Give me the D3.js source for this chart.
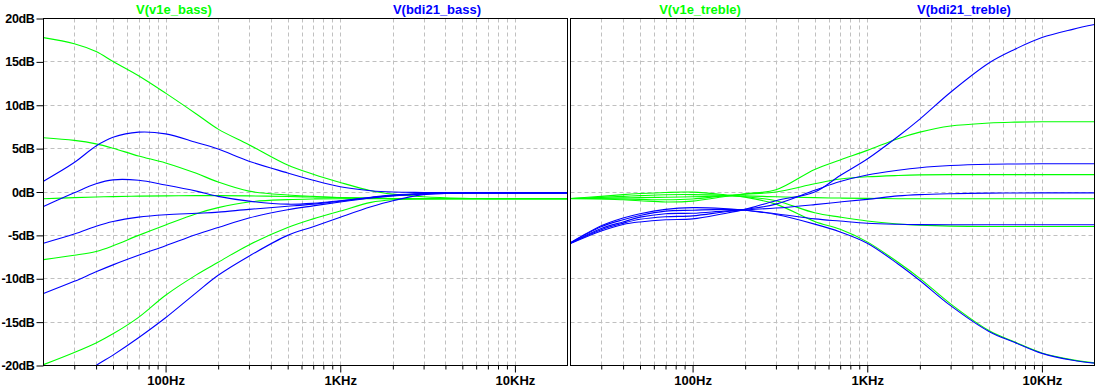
<!DOCTYPE html>
<html>
<head>
<meta charset="utf-8">
<script src="https://cdn.jsdelivr.net/npm/d3@7"></script>
<style>
  html, body { margin: 0; padding: 0; background: #fff; }
  svg { display: block; }
  text { font-family: "Liberation Sans", Arial, sans-serif; font-weight: bold; font-size: 13px; }
</style>
</head>
<body>
<svg id="chart" width="1100" height="390"></svg>
<script>
// ---------- data ----------
const freqs = [20,30,40,50,70,100,150,200,300,500,700,1000,1500,2000,3000,5000,7000,10000,15000,20000];

// left panel: bass
const bassGreenNames = "V(v1e_bass)";
const bassBlueNames = "V(bdi21_bass)";
const bassG1 = [17.8,17.1,16.2,15.05,13.4,11.4,9.0,7.25,5.45,3.1,2.05,1.1,0.15,-0.25,-0.55,-0.72,-0.76,-0.78,-0.78,-0.78];
const bassG2 = [6.25,5.95,5.55,5.05,4.15,3.35,2.15,1.15,0.1,-0.35,-0.5,-0.65,-0.72,-0.76,-0.78,-0.78,-0.78,-0.78,-0.78,-0.78];
const bassG3 = [-0.78,-0.65,-0.58,-0.53,-0.48,-0.45,-0.42,-0.42,-0.45,-0.52,-0.58,-0.65,-0.72,-0.75,-0.77,-0.78,-0.78,-0.78,-0.78,-0.78];
const bassG4 = [-7.8,-7.3,-6.85,-6.2,-5.0,-3.8,-2.5,-1.8,-1.15,-0.88,-0.8,-0.77,-0.78,-0.78,-0.78,-0.78,-0.78,-0.78,-0.78,-0.78];
const bassG5 = [-19.9,-18.5,-17.4,-16.35,-14.45,-11.9,-9.55,-8.1,-6.1,-4.1,-3.1,-2.2,-1.2,-0.9,-0.8,-0.78,-0.78,-0.78,-0.78,-0.78];
const bassB1 = [1.25,3.4,5.3,6.3,6.9,6.7,5.7,4.95,3.55,2.2,1.35,0.6,0.15,0.0,-0.05,-0.08,-0.1,-0.1,-0.1,-0.1];
const bassB2 = [-1.67,-0.1,0.95,1.4,1.35,0.8,0.1,-0.5,-1.05,-1.4,-1.3,-1.0,-0.6,-0.35,-0.18,-0.12,-0.1,-0.1,-0.1,-0.1];
const bassB3 = [-5.9,-4.85,-3.95,-3.4,-2.9,-2.62,-2.45,-2.32,-2.0,-1.65,-1.4,-1.05,-0.65,-0.42,-0.22,-0.13,-0.1,-0.1,-0.1,-0.1];
const bassB4 = [-11.7,-10.3,-9.2,-8.4,-7.3,-6.2,-4.9,-4.1,-3.0,-2.05,-1.6,-1.15,-0.7,-0.45,-0.22,-0.12,-0.1,-0.1,-0.1,-0.1];
const bassB5 = [-24.2,-21.8,-20.0,-18.8,-16.8,-14.5,-11.6,-9.6,-7.4,-5.0,-4.0,-2.9,-1.7,-1.0,-0.3,-0.12,-0.1,-0.1,-0.1,-0.1];

// right panel: treble
const trebleGreenNames = "V(v1e_treble)";
const trebleBlueNames = "V(bdi21_treble)";
const trebG1 = [-0.75,-0.8,-0.9,-1.0,-1.15,-1.05,-0.55,-0.2,0.25,2.6,3.7,4.8,6.15,6.9,7.6,7.95,8.05,8.1,8.1,8.1];
const trebG2 = [-0.75,-0.78,-0.8,-0.85,-0.9,-0.8,-0.45,-0.25,0.0,0.95,1.5,1.75,1.9,1.97,2.0,2.0,2.0,2.0,2.0,2.0];
const trebG3 = [-0.78,-0.72,-0.68,-0.65,-0.6,-0.55,-0.45,-0.45,-0.55,-0.65,-0.7,-0.74,-0.77,-0.78,-0.78,-0.78,-0.78,-0.78,-0.78,-0.78];
const trebG4 = [-0.75,-0.62,-0.5,-0.42,-0.32,-0.3,-0.38,-0.55,-1.0,-2.4,-2.9,-3.35,-3.68,-3.82,-3.93,-3.98,-3.98,-3.98,-3.98,-3.98];
const trebG5 = [-0.75,-0.5,-0.3,-0.18,-0.05,-0.02,-0.3,-0.6,-1.4,-3.4,-4.3,-5.75,-8.1,-9.95,-12.9,-16.0,-17.3,-18.55,-19.35,-19.7];
const trebB1 = [-5.95,-4.5,-3.75,-3.45,-3.2,-3.1,-2.5,-2.0,-1.0,0.0,1.9,3.8,6.4,8.4,11.5,14.9,16.45,17.8,18.75,19.3];
const trebB2 = [-5.9,-4.35,-3.6,-3.15,-2.85,-2.75,-2.3,-2.0,-1.4,0.2,1.2,1.95,2.5,2.8,3.05,3.2,3.23,3.25,3.25,3.25];
const trebB3 = [-5.9,-4.2,-3.45,-2.9,-2.5,-2.45,-2.2,-2.05,-1.85,-1.45,-1.15,-0.85,-0.45,-0.3,-0.2,-0.13,-0.11,-0.1,-0.1,-0.1];
const trebB4 = [-5.85,-4.0,-3.2,-2.7,-2.2,-2.1,-2.0,-2.1,-2.5,-3.1,-3.35,-3.6,-3.72,-3.76,-3.78,-3.78,-3.78,-3.78,-3.78,-3.78];
const trebB5 = [-5.85,-3.9,-3.0,-2.5,-2.0,-1.8,-1.9,-2.1,-2.6,-3.7,-4.6,-5.9,-8.3,-10.2,-13.1,-16.1,-17.35,-18.6,-19.4,-19.73];

const yTicks = [20,15,10,5,0,-5,-10,-15,-20];
const yTickLabels = ["20dB","15dB","10dB","5dB","0dB","-5dB","-10dB","-15dB","-20dB"];
const xMajor = [100,1000,10000];
const xMajorLabels = ["100Hz","1KHz","10KHz"];
const xMinor = [30,40,50,60,70,80,90,200,300,400,500,600,700,800,900,2000,3000,4000,5000,6000,7000,8000,9000];

// ---------- drawing ----------
const GREEN = "#00ff00", BLUE = "#0000ff";
const FONT = '"Liberation Sans", Arial, sans-serif';
const svg = d3.select("#chart");
svg.append("rect").attr("width",1100).attr("height",390).attr("fill","#fff");

const y = d3.scaleLinear().domain([-20,20]).range([365.5,18.5]);

const panels = [
  { id:"bass", x0:43.5, x1:567.5, greens:[bassG1,bassG2,bassG3,bassG4,bassG5], blues:[bassB1,bassB2,bassB3,bassB4,bassB5],
    gName:bassGreenNames, bName:bassBlueNames, gX:174, bX:437, yLabels:true },
  { id:"treble", x0:570.5, x1:1094.5, greens:[trebG1,trebG2,trebG3,trebG4,trebG5], blues:[trebB1,trebB2,trebB3,trebB4,trebB5],
    gName:trebleGreenNames, bName:trebleBlueNames, gX:700, bX:964, yLabels:false }
];

panels.forEach(p => {
  const x = d3.scaleLog().domain([20,20000]).range([p.x0, p.x1]);
  const g = svg.append("g");

  // grid
  const gridF = xMinor.concat(xMajor);
  g.selectAll(null).data(gridF).enter().append("line")
    .attr("x1", d => Math.round(x(d)) + 0.5).attr("x2", d => Math.round(x(d)) + 0.5)
    .attr("y1", y(20)).attr("y2", y(-20))
    .attr("stroke","#c0c0c0").attr("stroke-dasharray","4,3").attr("stroke-width",1);
  g.selectAll(null).data(yTicks.filter(d => d !== 20 && d !== -20)).enter().append("line")
    .attr("x1", p.x0).attr("x2", p.x1)
    .attr("y1", d => Math.round(y(d) - 0.5) + 0.5).attr("y2", d => Math.round(y(d) - 0.5) + 0.5)
    .attr("stroke","#c0c0c0").attr("stroke-dasharray","4,3").attr("stroke-width",1);

  // clip
  svg.append("clipPath").attr("id","clip-"+p.id).append("rect")
    .attr("x", p.x0).attr("y", y(20)).attr("width", p.x1 - p.x0).attr("height", y(-20) - y(20));

  const line = d3.line().x((d,i) => x(freqs[i])).y(d => y(d)).curve(d3.curveCatmullRom.alpha(0.5));
  const traces = g.append("g").attr("clip-path","url(#clip-"+p.id+")");
  p.greens.forEach(s => traces.append("path").attr("d", line(s)).attr("fill","none").attr("stroke",GREEN).attr("stroke-width",1.1));
  p.blues.forEach(s => traces.append("path").attr("d", line(s)).attr("fill","none").attr("stroke",BLUE).attr("stroke-width",1.1));

  // frame
  g.append("rect").attr("x", p.x0).attr("y", y(20)).attr("width", p.x1 - p.x0).attr("height", y(-20) - y(20))
    .attr("fill","none").attr("stroke","#000").attr("stroke-width",1);

  // bottom axis: minor ticks
  const axMinor = d3.axisBottom(x).tickValues(xMinor).tickSize(4).tickFormat("");
  const gm = g.append("g").attr("transform","translate(0,"+y(-20)+")").call(axMinor);
  gm.select(".domain").remove();
  gm.selectAll("line").attr("stroke","#000");
  // major ticks with labels
  const axMajor = d3.axisBottom(x).tickValues(xMajor).tickSize(7).tickPadding(3)
    .tickFormat((d) => xMajorLabels[xMajor.indexOf(d)]);
  const gM = g.append("g").attr("transform","translate(0,"+y(-20)+")").call(axMajor);
  gM.select(".domain").remove();
  gM.selectAll("line").attr("stroke","#000");
  gM.selectAll("text").attr("fill","#000").style("font-family",FONT)
    .style("font-weight","bold").style("font-size","13px");

  // y axis
  if (p.yLabels) {
    const ay = d3.axisLeft(y).tickValues(yTicks).tickSize(7).tickPadding(2)
      .tickFormat(d => yTickLabels[yTicks.indexOf(d)]);
    const gy = g.append("g").attr("transform","translate("+p.x0+",0)").call(ay);
    gy.select(".domain").remove();
    gy.selectAll("line").attr("stroke","#000");
    gy.selectAll("text").attr("fill","#000").style("font-family",FONT)
      .style("font-weight","bold").style("font-size","12.5px").style("letter-spacing","-0.35px");
  }

  // titles
  g.append("text").attr("x", p.gX).attr("y", 13.5).attr("text-anchor","middle").attr("fill", GREEN).text(p.gName);
  g.append("text").attr("x", p.bX).attr("y", 13.5).attr("text-anchor","middle").attr("fill", BLUE).text(p.bName);
});
</script>
</body>
</html>
